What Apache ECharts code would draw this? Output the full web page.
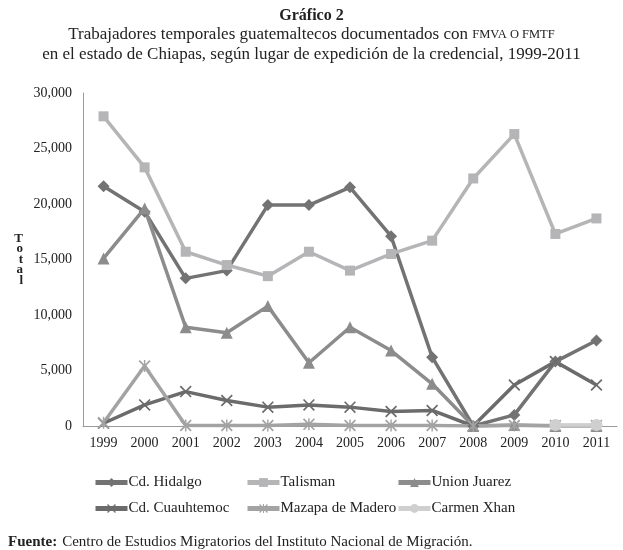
<!DOCTYPE html>
<html>
<head>
<meta charset="utf-8">
<script src="https://cdn.jsdelivr.net/npm/echarts@6/dist/echarts.min.js"></script>
<style>
  html, body { margin: 0; padding: 0; background: #fff; }
  #chart { width: 623px; height: 550px; }
</style>
</head>
<body>
<div id="chart"></div>
<script>
// años del eje x
const years = ['1999', '2000', '2001', '2002', '2003', '2004', '2005', '2006', '2007', '2008', '2009', '2010', '2011']

// valores por lugar de expedición
const cdHidalgo = [21600, 19300, 13300, 14000, 19900, 19900, 21500, 17100, 6200, 0, 1000, 5800, 7700]
const talisman = [27900, 23300, 15700, 14500, 13500, 15700, 14000, 15500, 16700, 22300, 26300, 17300, 18700]
const unionJuarez = [15100, 19600, 8900, 8400, 10800, 5700, 8900, 6800, 3800, 0, 100, 0, 0]
const cdCuauhtemoc = [250, 1900, 3100, 2300, 1700, 1900, 1700, 1300, 1400, 0, 3700, 5800, 3700]
const mazapa = [300, 5400, 50, 50, 50, 150, 50, 50, 50, 0, 50, 50, 50]
const carmenXhan = [null, null, null, null, null, null, null, null, null, null, null, 100, 100]

const yTicks = [0, 5000, 10000, 15000, 20000, 25000, 30000]

const serif = '"Liberation Serif", "DejaVu Serif", serif'

// marcadores propios
const xMark = 'path://M0,1L1,0L10,9L9,10Z M9,0L10,1L1,10L0,9Z'
const starMark = 'path://M0,1L1,0L10,9L9,10Z M9,0L10,1L1,10L0,9Z M4.4,0L5.6,0L5.6,10L4.4,10Z'

const chart = echarts.init(document.getElementById('chart'))

const mkSeries = (name, data, color, symbol, size, width) => ({
  name,
  type: 'line',
  data,
  symbol,
  symbolSize: size,
  connectNulls: false,
  lineStyle: { color, width: width || 3.5 },
  itemStyle: { color },
  emphasis: { disabled: true }
})

const legendBase = {
  orient: 'vertical',
  top: 470,
  itemWidth: 32,
  itemHeight: 11,
  itemGap: 11,
  lineStyle: { width: 5 },
  textStyle: { fontFamily: serif, fontSize: 15, color: '#222', padding: [0, 0, 0, -4] }
}

const option = {
  animation: false,
  title: [
    {
      text: 'Gráfico 2',
      left: 'center',
      top: 3,
      textStyle: { fontFamily: serif, fontSize: 16, fontWeight: 'bold', color: '#222' }
    },
    {
      text: '{a|Trabajadores temporales guatemaltecos documentados con }{sc|FMVA O FMTF}\n{a|en el estado de Chiapas, según lugar de expedición de la credencial, 1999-2011}',
      left: 'center',
      top: 20,
      textStyle: {
        fontWeight: 'normal',
        align: 'center',
        rich: {
          a: { fontFamily: serif, fontSize: 17, fontWeight: 'normal', color: '#222', lineHeight: 20 },
          sc: { fontFamily: serif, fontSize: 12.5, fontWeight: 'normal', color: '#222', lineHeight: 20 }
        }
      }
    },
    {
      text: '{b|Fuente:} {a|Centro de Estudios Migratorios del Instituto Nacional de Migración.}',
      left: 3,
      top: 528,
      textStyle: {
        fontWeight: 'normal',
        rich: {
          b: { fontFamily: serif, fontSize: 15, fontWeight: 'bold', color: '#222' },
          a: { fontFamily: serif, fontSize: 15, fontWeight: 'normal', color: '#222' }
        }
      }
    }
  ],
  legend: [
    Object.assign({ left: 88, data: ['Cd. Hidalgo', 'Cd. Cuauhtemoc'] }, legendBase),
    Object.assign({ left: 240, data: ['Talisman', 'Mazapa de Madero'] }, legendBase),
    Object.assign({ left: 391, data: ['Union Juarez', 'Carmen Xhan'] }, legendBase)
  ],
  grid: { left: 83, right: 6, top: 93, bottom: 124 },
  xAxis: {
    type: 'category',
    data: years,
    boundaryGap: true,
    axisLine: { lineStyle: { color: '#9a9a9a', width: 1 } },
    axisTick: { show: false },
    axisLabel: { fontFamily: serif, fontSize: 14, color: '#222', margin: 10 }
  },
  yAxis: {
    type: 'value',
    min: yTicks[0],
    max: yTicks[yTicks.length - 1],
    interval: 5000,
    name: 'T\no\nt\na\nl',
    nameLocation: 'middle',
    nameRotate: 0,
    nameGap: 60,
    nameTextStyle: { fontFamily: serif, fontSize: 13, fontWeight: 'bold', color: '#222', lineHeight: 10.5 },
    axisLine: { show: true, lineStyle: { color: '#9a9a9a', width: 1 } },
    axisTick: { show: false },
    splitLine: { show: false },
    axisLabel: {
      fontFamily: serif,
      fontSize: 14,
      color: '#222',
      margin: 11,
      formatter: (v) => v.toLocaleString('en-US')
    }
  },
  series: [
    mkSeries('Cd. Hidalgo', cdHidalgo, '#737373', 'diamond', 12),
    mkSeries('Talisman', talisman, '#b5b5b7', 'rect', 10),
    mkSeries('Union Juarez', unionJuarez, '#8c8c8c', 'triangle', 12),
    mkSeries('Cd. Cuauhtemoc', cdCuauhtemoc, '#6b6b6b', xMark, 12),
    mkSeries('Mazapa de Madero', mazapa, '#a3a3a3', starMark, 12),
    mkSeries('Carmen Xhan', carmenXhan, '#cfcfcf', 'circle', 12)
  ]
}

chart.setOption(option)
</script>
</body>
</html>
